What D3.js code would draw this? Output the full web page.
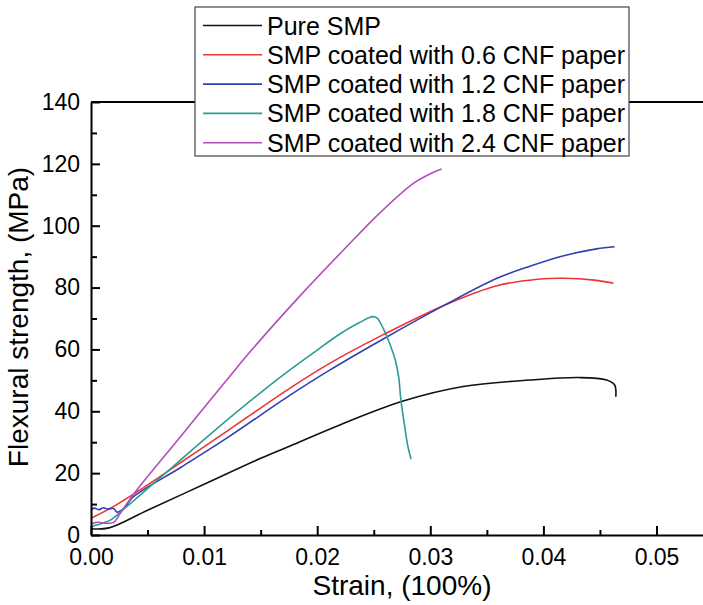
<!DOCTYPE html>
<html>
<head>
<meta charset="utf-8">
<script src="https://cdn.jsdelivr.net/npm/d3@7"></script>
<style>
  body { margin: 0; background: #fff; }
  svg { display: block; font-family: "Liberation Sans", Arial, sans-serif; }
  .axis path, .axis line { stroke: #000; stroke-width: 2; }
  .axis text { font-size: 23px; fill: #000; }
</style>
</head>
<body>
<script>
var width = 703,
    height = 605;

// series names and colours
var seriesNames = ['Pure SMP', 'SMP coated with 0.6 CNF paper', 'SMP coated with 1.2 CNF paper',
                   'SMP coated with 1.8 CNF paper', 'SMP coated with 2.4 CNF paper'];
var seriesColors = ['#111111', '#ee3333', '#3040b0', '#2a9d92', '#b44cbc'];

// [strain, MPa]
var pureSMP = [[0, 2], [0.0016, 2.3], [0.005, 8], [0.01, 16.4], [0.015, 24.8], [0.0176, 28.8], [0.022, 35.6],
  [0.0276, 43.3], [0.0329, 48], [0.0388, 50.1], [0.0432, 50.9], [0.0456, 50.1], [0.0463, 48.5], [0.0464, 44.7]];
var cnf06 = [[0, 5.4], [0.0017, 8.6], [0.004, 13.8], [0.008, 23.6], [0.012, 33.5], [0.0176, 47.5],
  [0.0211, 55.5], [0.0258, 64.7], [0.0313, 74.4], [0.0359, 80.6], [0.0395, 82.7], [0.0418, 83],
  [0.0445, 82.4], [0.0462, 81.4]];
var cnf12 = [[0, 8.1], [0.0003, 8.7], [0.0007, 8.2], [0.0011, 8.8], [0.0015, 8.4], [0.002, 8.6], [0.0023, 7.4],
  [0.0029, 8.6], [0.0037, 12.2], [0.008, 22], [0.012, 31.3], [0.0176, 45.2], [0.0211, 53.3], [0.0258, 63.3],
  [0.0313, 74.4], [0.0359, 83], [0.0388, 86.9], [0.0418, 90.3], [0.0447, 92.5], [0.0463, 93.2]];
var cnf18 = [[0, 2.7], [0.001, 3.8], [0.0017, 4.8], [0.003, 8.7], [0.005, 15], [0.008, 24.5], [0.011, 34],
  [0.0164, 50.1], [0.02, 59.8], [0.022, 65], [0.0237, 68.6], [0.0249, 70.6], [0.0253, 70.1], [0.0259, 66.3],
  [0.0264, 62], [0.0269, 56.6], [0.0272, 51.2], [0.0274, 43.6], [0.0277, 36], [0.028, 29], [0.0283, 24.5]];
var cnf24 = [[0, 3.6], [0.0006, 4.1], [0.0012, 3.8], [0.002, 4.1], [0.0026, 7.1], [0.0032, 10.3], [0.004, 14.3],
  [0.008, 32.2], [0.012, 50.1], [0.0142, 59.8], [0.0185, 77.4], [0.0226, 93.2], [0.0255, 104],
  [0.0285, 113.7], [0.03, 116.8], [0.031, 118.3]];
var allSeries = [pureSMP, cnf06, cnf12, cnf18, cnf24];

var xTicks = [0, 0.01, 0.02, 0.03, 0.04, 0.05],
    xMinor = [0.005, 0.015, 0.025, 0.035, 0.045],
    yTicks = [0, 20, 40, 60, 80, 100, 120, 140],
    yMinor = [10, 30, 50, 70, 90, 110, 130];

var svg = d3.select("body").append("svg")
    .attr("width", width)
    .attr("height", height);

var x = d3.scaleLinear().domain([0, 0.055]).range([91, 91 + 113.1 * 5.5]),
    y = d3.scaleLinear().domain([0, 140]).range([535, 102]);

// top frame line at 140
svg.append('line')
  .attr('x1', x(0)).attr('x2', width)
  .attr('y1', y(140)).attr('y2', y(140))
  .attr('stroke', '#000').attr('stroke-width', 2);

// curves
var line = d3.line()
  .x(function(d) { return x(d[0]); })
  .y(function(d) { return y(d[1]); })
  .curve(d3.curveCatmullRom.alpha(0.5));

svg.selectAll('.curve')
  .data(allSeries)
  .enter().append('path')
  .attr('class', 'curve')
  .attr('fill', 'none')
  .attr('stroke-width', 1.6)
  .attr('stroke', function(d, i) { return seriesColors[i]; })
  .attr('d', line);

// axes, ticks pointing inward
svg.append('g')
  .attr('class', 'axis')
  .attr('transform', 'translate(0,' + y(0) + ')')
  .call(d3.axisBottom(x).tickValues(xTicks).tickSize(-9).tickSizeOuter(0).tickPadding(14)
    .tickFormat(d3.format('.2f')));

svg.append('g')
  .attr('class', 'axis')
  .attr('transform', 'translate(0,' + y(0) + ')')
  .call(d3.axisBottom(x).tickValues(xMinor).tickSize(-5).tickSizeOuter(0).tickFormat(''))
  .select('.domain').remove();

svg.append('g')
  .attr('class', 'axis')
  .attr('transform', 'translate(' + x(0) + ',0)')
  .call(d3.axisLeft(y).tickValues(yTicks).tickSize(-9).tickSizeOuter(0).tickPadding(11));

svg.append('g')
  .attr('class', 'axis')
  .attr('transform', 'translate(' + x(0) + ',0)')
  .call(d3.axisLeft(y).tickValues(yMinor).tickSize(-6).tickSizeOuter(0).tickFormat(''))
  .select('.domain').remove();

// axis titles
svg.append('text')
  .attr('x', 402).attr('y', 595)
  .attr('text-anchor', 'middle')
  .attr('font-size', 28)
  .text('Strain, (100%)');

svg.append('text')
  .attr('transform', 'translate(28,317) rotate(-90)')
  .attr('text-anchor', 'middle')
  .attr('font-size', 28)
  .text('Flexural strength, (MPa)');

// legend
var legend = svg.append('g').attr('transform', 'translate(195,7)');
legend.append('rect')
  .attr('width', 434).attr('height', 149)
  .attr('fill', '#fff').attr('stroke', '#444').attr('stroke-width', 1.2);

var rows = legend.selectAll('.row')
  .data(seriesNames)
  .enter().append('g')
  .attr('class', 'row')
  .attr('transform', function(d, i) { return 'translate(0,' + (18.5 + i * 29.3) + ')'; });

rows.append('line')
  .attr('x1', 8).attr('x2', 67)
  .attr('stroke', function(d, i) { return seriesColors[i]; })
  .attr('stroke-width', 1.6);

rows.append('text')
  .attr('x', 72).attr('y', 9)
  .attr('font-size', 25)
  .text(function(d) { return d; });
</script>
</body>
</html>
